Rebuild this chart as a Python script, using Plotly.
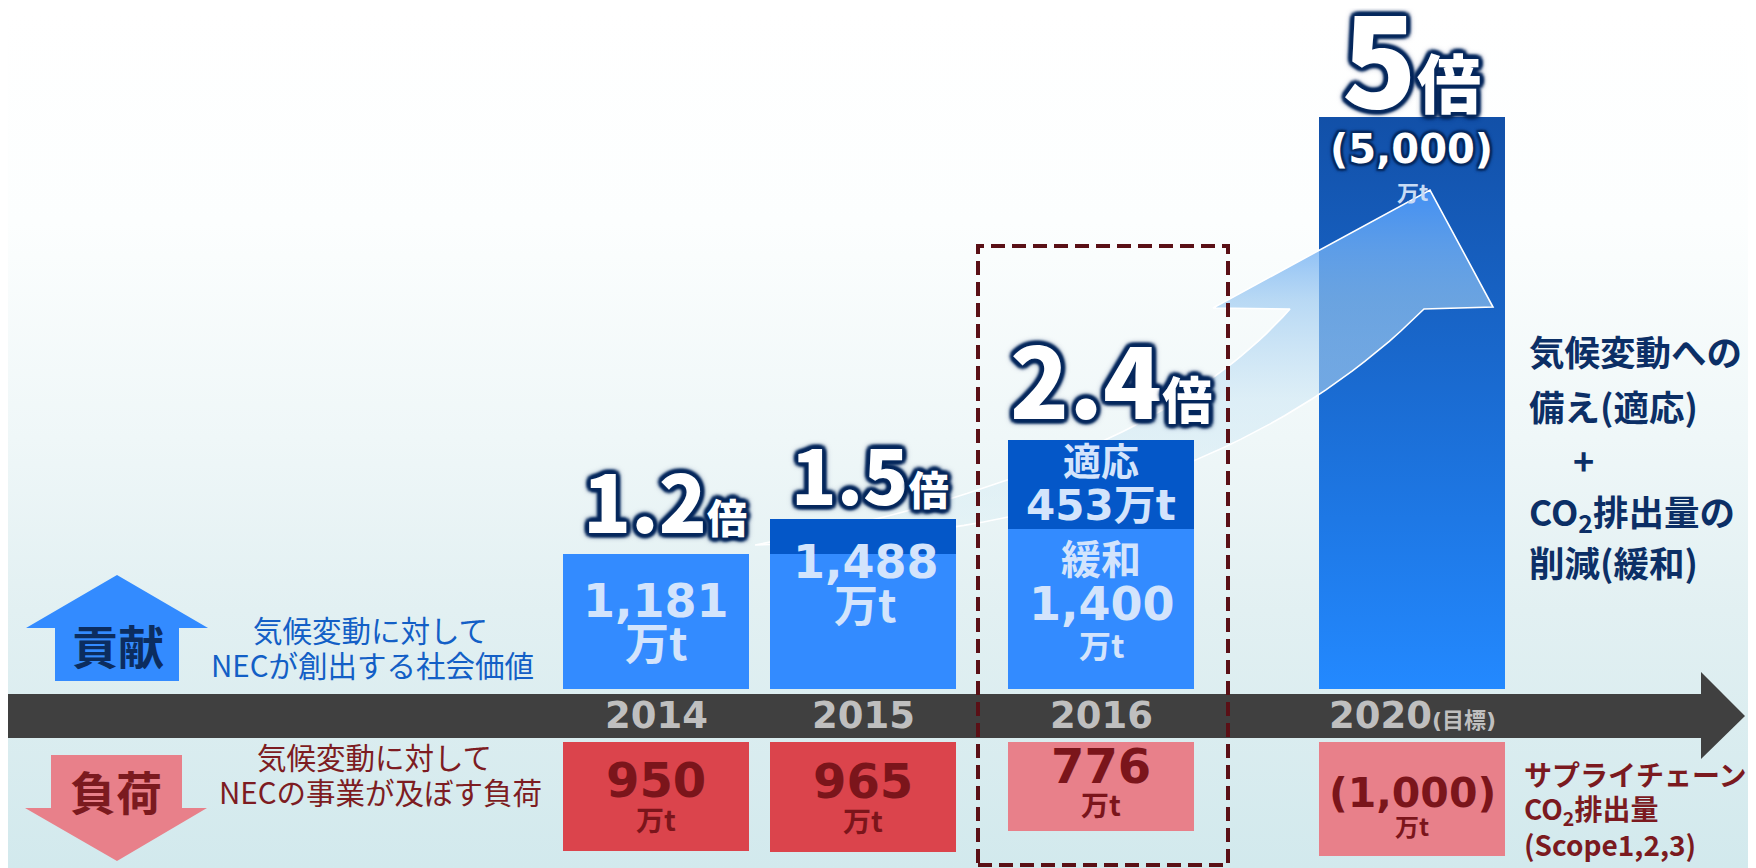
import base64
import plotly.graph_objects as go

# ------------------------------------------------------------------ data
YEARS = ["2014", "2015", "2016", "2020"]
YEAR_NOTE = ["", "", "", "(目標)"]
MULTIPLIER = ["1.2", "1.5", "2.4", "5"]
CONTRIB_LOWER = [1181, 1181, 1400, 5000]      # lower (緩和) segment, 万t as drawn
CONTRIB_UPPER = [0, 307, 777, 0]              # darker upper segment as drawn
CONTRIB_LABEL = ["1,181", "1,488", "1,400", "(5,000)"]
ADAPT_LABEL = "453"
LOAD = [950, 965, 776, 1000]
LOAD_LABEL = ["950", "965", "776", "(1,000)"]
UNIT = "万t"

# ------------------------------------------------------------------ layout geometry (screen px)
W, H = 1756, 868          # window
OFF = 8                   # page body margin
FW, FH = W - OFF, H - OFF # figure size so nothing overflows the window
X_POS = [656, 863, 1101, 1412]
BAR_W = 186
BASE_TOP = 689.0       # baseline of contribution bars
BASE_BOT = 741.5       # top of load bars
S = 0.1144             # px per 万t

JP = "Noto Sans CJK JP"
DV = "DejaVu Sans"
DVJP = "DejaVu Sans, Noto Sans CJK JP"
K = {JP: 0.436, DV: 0.346, DVJP: 0.346}

BLUE = "#338bff"
DARK_BLUE = "#0457c8"
RED = "#db444c"
PINK = "#e8808a"
PALE = "#d3e4fc"
NAVY = "#0c2f66"
MAROON = "#7b151b"
G = "#082a5e"
GLOW = ", ".join([f"0 0 {b}px {G}" for b in (2, 3, 5, 7, 9)] +
                 [f"{dx}px {dy}px 3px {G}" for dx, dy in
                  ((3, 3), (-3, -3), (3, -3), (-3, 3), (0, 4), (0, -4), (4, 0), (-4, 0))])
GLOW_S = ", ".join([f"0 0 {b}px {G}" for b in (2, 3, 5)] +
                   [f"{dx}px {dy}px 2px {G}" for dx, dy in ((2, 2), (-2, -2), (2, -2), (-2, 2))])


def px(x):
    return (x - OFF) / FW


def py(y):
    return 1 - (y - OFF) / FH


def unit_top(y):
    return (BASE_TOP - y) / S


fig = go.Figure()

# ---------------- subplot 1: 2020 bar + growth arrow
v20 = CONTRIB_LOWER[3]
fig.add_trace(go.Bar(x=[X_POS[3]], y=[v20], width=BAR_W, marker=dict(color="#1a6ad6", line=dict(width=0)),
                     xaxis="x", yaxis="y", hoverinfo="skip"))
x0, x1 = X_POS[3] - BAR_W / 2, X_POS[3] + BAR_W / 2
fig.add_trace(go.Scatter(x=[x0, x1, x1, x0, x0], y=[0, 0, v20, v20, 0], mode="lines", fill="toself",
                         line=dict(width=0),
                         fillgradient=dict(type="vertical", colorscale=[[0, "#2389ff"], [1, "#1250a8"]],
                                           start=0, stop=v20),
                         xaxis="x", yaxis="y", hoverinfo="skip"))


def qbez(p0, c, p2, n=40):
    pts = []
    for i in range(n + 1):
        t = i / n
        a, b, d = (1 - t) ** 2, 2 * (1 - t) * t, t ** 2
        pts.append((a * p0[0] + b * c[0] + d * p2[0], a * p0[1] + b * c[1] + d * p2[1]))
    return pts


tail = (755, 545)
curve_a = qbez(tail, (1145, 473), (1290, 309))
curve_b = qbez(tail, (1201, 532), (1424, 309))
head = [(1213, 308), (1430, 190), (1493, 307)]
outline = curve_a + head + curve_b[::-1]
fig.add_trace(go.Scatter(
    x=[p[0] for p in outline], y=[unit_top(p[1]) for p in outline], mode="lines", fill="toself",
    line=dict(color="white", width=1.6),
    fillgradient=dict(type="vertical",
                      colorscale=[[0, "rgba(220,240,245,0.35)"], [0.41, "rgba(200,228,244,0.5)"],
                                  [0.69, "rgba(150,198,240,0.65)"], [1, "rgba(70,148,248,0.93)"]],
                      start=unit_top(545), stop=unit_top(190)),
    xaxis="x", yaxis="y", hoverinfo="skip"))

# ---------------- subplot 2: 2014-2016 contribution bars
fig.add_trace(go.Bar(x=X_POS[:3], y=CONTRIB_LOWER[:3], width=BAR_W,
                     marker=dict(color=BLUE, line=dict(width=0)), xaxis="x2", yaxis="y2", hoverinfo="skip"))
fig.add_trace(go.Bar(x=X_POS[:3], y=CONTRIB_UPPER[:3], width=BAR_W,
                     marker=dict(color=DARK_BLUE, line=dict(width=0)), xaxis="x2", yaxis="y2", hoverinfo="skip"))

# ---------------- subplot 3: load bars (hanging down)
fig.add_trace(go.Bar(x=X_POS, y=LOAD, width=BAR_W,
                     marker=dict(color=[RED, RED, PINK, PINK], line=dict(width=0)),
                     xaxis="x3", yaxis="y3", hoverinfo="skip"))

top_dom = [1 - (BASE_TOP - OFF) / FH, 1]
top_rng = [0, (BASE_TOP - OFF) / S]
bot_dom = [0, 1 - (BASE_BOT - OFF) / FH]
bot_rng = [(H - BASE_BOT) / S, 0]
x_rng = [OFF, W]
ax = dict(visible=False, showgrid=False, zeroline=False, fixedrange=True)
fig.update_layout(
    xaxis=dict(domain=[0, 1], range=x_rng, anchor="y", **ax),
    yaxis=dict(domain=top_dom, range=top_rng, anchor="x", **ax),
    xaxis2=dict(domain=[0, 1], range=x_rng, anchor="y2", **ax),
    yaxis2=dict(domain=top_dom, range=top_rng, anchor="x2", **ax),
    xaxis3=dict(domain=[0, 1], range=x_rng, anchor="y3", **ax),
    yaxis3=dict(domain=bot_dom, range=bot_rng, anchor="x3", **ax),
)

# ---------------- background gradient
svg = ('<svg xmlns="http://www.w3.org/2000/svg" width="1748" height="860" preserveAspectRatio="none">'
       '<defs><linearGradient id="g" x1="0" y1="0" x2="0" y2="1">'
       '<stop offset="0" stop-color="#ffffff"/><stop offset="0.25" stop-color="#fcfefe"/>'
       '<stop offset="0.5" stop-color="#eff7f8"/><stop offset="0.7" stop-color="#e2f0f2"/>'
       '<stop offset="1" stop-color="#d2e9ed"/></linearGradient></defs>'
       '<rect width="1748" height="860" fill="url(#g)"/></svg>')
src = "data:image/svg+xml;base64," + base64.b64encode(svg.encode()).decode()
fig.add_layout_image(source=src, xref="paper", yref="paper", x=0, y=1, sizex=1, sizey=1,
                     xanchor="left", yanchor="top", sizing="stretch", layer="below")


# ---------------- shapes
def path(points, close=True):
    s = "M " + " L ".join(f"{px(x):.5f},{py(y):.5f}" for x, y in points)
    return s + (" Z" if close else "")


shapes = [
    dict(type="path", xref="paper", yref="paper", fillcolor="#404040", line=dict(width=0),
         path=path([(7, 694), (1701, 694), (1701, 672), (1745, 716), (1701, 759), (1701, 738), (7, 738)])),
    dict(type="path", xref="paper", yref="paper", fillcolor=BLUE, line=dict(width=0),
         path=path([(55, 681), (55, 628), (26, 628), (117, 575), (208, 628), (179, 628), (179, 681)])),
    dict(type="path", xref="paper", yref="paper", fillcolor=PINK, line=dict(width=0),
         path=path([(51, 755), (51, 808), (25, 808), (117, 861), (207, 808), (182, 808), (182, 755)])),
    dict(type="rect", xref="paper", yref="paper", x0=px(978), x1=px(1228), y0=py(865), y1=py(246),
         line=dict(color="#5a1016", width=4, dash="14px,7px"), fillcolor="rgba(0,0,0,0)"),
]
for s_ in shapes:
    s_["layer"] = "above"
    fig.add_shape(**s_)


# ---------------- text
def label(text, x, baseline, size, color, family=JP, weight=700, xanchor="center", shadow=None):
    yc = baseline - K[family] * size
    font = dict(family=family, size=size, color=color, weight=weight)
    if shadow:
        font["shadow"] = shadow
    fig.add_annotation(x=px(x), y=py(yc), xref="paper", yref="paper", text=text, showarrow=False,
                       xanchor=xanchor, yanchor="middle", font=font, borderpad=0)


# multipliers
mult_geo = [(665, 533, 79, 40), (870, 505, 75, 40), (1111, 419, 97, 50), (1411, 108, 123, 64)]
for m, (x, b, s1, s2) in zip(MULTIPLIER, mult_geo):
    label(f"{m}<span style='font-size:{s2}px'>倍</span>", x, b, s1, "white", weight=900, shadow=GLOW)

# contribution labels
label(CONTRIB_LABEL[0], 656, 617, 46, PALE, family=DV)
label(UNIT, 656, 660, 44, PALE)
label(CONTRIB_LABEL[1], 866, 578, 46, PALE, family=DV)
label(UNIT, 865, 622, 44, PALE)
label("適応", 1101, 475, 38, PALE)
label(ADAPT_LABEL + UNIT, 1101, 520, 42, PALE, family=DVJP)
label("緩和", 1101, 574, 40, PALE)
label(CONTRIB_LABEL[2], 1102, 620, 46, PALE, family=DV)
label(UNIT, 1101, 658, 32, PALE)
label(CONTRIB_LABEL[3], 1411, 163, 40, "white", family=DV, shadow=GLOW_S)
label(UNIT, 1412, 201, 22, "#c8dcf5")

# year labels
for yr, note, x in zip(YEARS, YEAR_NOTE, X_POS):
    t = yr + (f"<span style='font-size:22px'>{note}</span>" if note else "")
    label(t, x, 728, 37, "#bfbfbf", family=DVJP)

# load labels
load_geo = [(656, 797, 48, 831, 28), (863, 798, 48, 832, 28), (1101, 783, 48, 816, 28), (1412, 807, 41, 836, 24)]
for lab, (x, b1, s1, b2, s2) in zip(LOAD_LABEL, load_geo):
    label(lab, x, b1, s1, MAROON, family=DV)
    label(UNIT, x, b2, s2, MAROON)

# left legend
label("貢献", 118, 664, 46, "#0c2d5f")
label("負荷", 116, 810, 46, "#7b1a1f")
label("気候変動に対して", 370, 642, 29.5, "#135fc6", weight=400)
label("NECが創出する社会価値", 372, 677, 29.5, "#135fc6", weight=400)
label("気候変動に対して", 374, 769, 29.5, "#7d1c22", weight=400)
label("NECの事業が及ぼす負荷", 380, 804, 29.5, "#7d1c22", weight=400)

# right notes
label("気候変動への", 1528, 366, 35.5, NAVY, xanchor="left")
label("備え(適応)", 1528, 421, 35.5, NAVY, xanchor="left")
label("+", 1583, 475, 36, NAVY)
label("CO<sub>2</sub>排出量の", 1528, 528, 35.5, NAVY, xanchor="left")
label("削減(緩和)", 1528, 577, 35.5, NAVY, xanchor="left")
label("サプライチェーン", 1523, 786, 28, "#7b1a1f", xanchor="left")
label("CO<sub>2</sub>排出量", 1523, 822, 28, "#7b1a1f", xanchor="left")
label("(Scope1,2,3)", 1523, 856, 28, "#7b1a1f", xanchor="left")

fig.update_layout(width=FW, height=FH, margin=dict(l=0, r=0, t=0, b=0), showlegend=False,
                  barmode="stack", bargap=0, paper_bgcolor="#ffffff", plot_bgcolor="rgba(0,0,0,0)")

fig.write_html("out.html")
